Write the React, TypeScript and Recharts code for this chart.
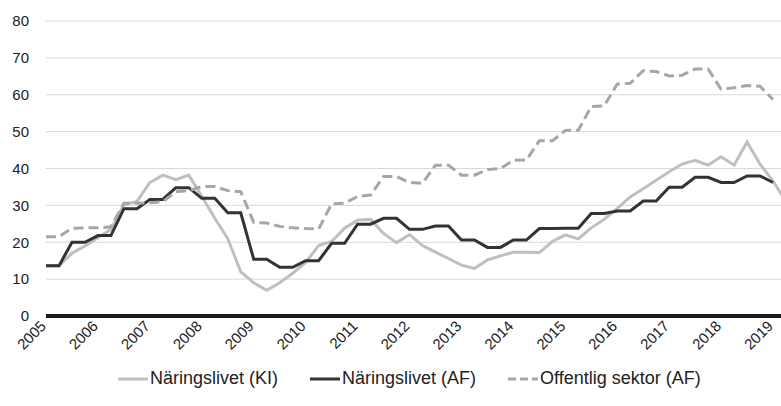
import React from 'react';
import { LineChart, Line, XAxis, YAxis, CartesianGrid, ReferenceLine } from 'recharts';

const years = ['2005', '2006', '2007', '2008', '2009', '2010', '2011', '2012', '2013', '2014', '2015', '2016', '2017', '2018', '2019'];
const quarterNames = ['K1', 'K2', 'K3', 'K4'];
const periods = years.flatMap((y) => quarterNames.map((q) => `${y}-${q}`)).slice(0, 58);
const yTicks = [0, 10, 20, 30, 40, 50, 60, 70, 80];

const naringslivetKI = [
  13.6, 13.6, 17.0, 19.0, 21.2, 23.5, 30.2, 31.0, 36.2, 38.2,
  37.0, 38.2, 32.5, 26.5, 21.0, 12.0, 9.0, 7.0, 9.0, 11.6,
  14.5, 19.1, 20.2, 23.8, 26.0, 26.2, 22.4, 19.9, 22.1, 19.1,
  17.3, 15.6, 13.8, 12.9, 15.2, 16.3, 17.3, 17.3, 17.2, 20.2,
  22.0, 20.9, 23.9, 26.2, 29.2, 32.3, 34.5, 36.8, 39.1, 41.2,
  42.2, 40.9, 43.2, 40.9, 47.2, 41.2, 36.6, 31.0,
];
const naringslivetAF = [
  13.6, 13.6, 20.0, 20.0, 21.8, 21.8, 29.1, 29.1, 31.6, 31.6,
  34.8, 34.8, 31.9, 31.9, 28.0, 28.0, 15.4, 15.4, 13.2, 13.2,
  15.0, 15.0, 19.7, 19.7, 24.9, 24.9, 26.5, 26.5, 23.5, 23.5,
  24.4, 24.4, 20.6, 20.6, 18.6, 18.6, 20.6, 20.6, 23.7, 23.7,
  23.8, 23.8, 27.8, 27.8, 28.5, 28.5, 31.2, 31.2, 34.9, 34.9,
  37.6, 37.6, 36.2, 36.2, 38.0, 38.0, 36.2, null,
];
const offentligAF = [
  21.5, 21.5, 23.8, 23.9, 23.9, 24.2, 30.6, 30.6, 30.7, 31.0,
  33.7, 34.0, 35.1, 35.1, 34.0, 33.7, 25.4, 25.2, 24.3, 23.9,
  23.7, 23.6, 30.4, 30.6, 32.4, 32.8, 37.8, 37.8, 36.2, 36.0,
  40.9, 40.9, 38.2, 38.2, 39.7, 40.0, 42.2, 42.3, 47.5, 47.5,
  50.3, 50.4, 56.8, 57.0, 62.9, 63.1, 66.5, 66.3, 65.1, 65.3,
  67.0, 67.0, 61.5, 61.9, 62.5, 62.3, 58.7, null,
];

const data = periods.map((p, i) => ({
  period: p,
  ki: naringslivetKI[i],
  af: naringslivetAF[i],
  off: offentligAF[i],
}));

const FONT = '"Liberation Sans", Arial, sans-serif';
const TEXT = '#222';

const series = [
  { key: 'ki', name: 'Näringslivet (KI)', color: '#bfbfbf', dash: undefined },
  { key: 'af', name: 'Näringslivet (AF)', color: '#333333', dash: undefined },
  { key: 'off', name: 'Offentlig sektor (AF)', color: '#a6a6a6', dash: '10 5' },
];

// year label turned 45 degrees (css transform), text ends at the tick
function renderYearTick(props: any) {
  const { x, y, payload } = props;
  const tx = Number(x) + 1;
  const ty = Number(y) + 11;
  return (
    <text
      x={tx}
      y={ty}
      textAnchor="end"
      fontSize={15}
      fill={TEXT}
      fontFamily={FONT}
      style={{ transform: 'rotate(-45deg)', transformOrigin: `${tx}px ${ty}px`, transformBox: 'view-box' }}
    >
      {String(payload.value).slice(0, 4)}
    </text>
  );
}

function LegendRow() {
  return (
    <div
      style={{
        position: 'absolute',
        top: 368,
        left: 118,
        display: 'flex',
        alignItems: 'center',
        gap: 32,
        fontFamily: FONT,
        fontSize: 18,
        color: TEXT,
        whiteSpace: 'nowrap',
      }}
    >
      {series.map((s) => (
        <div key={s.key} style={{ display: 'flex', alignItems: 'center', gap: 2 }}>
          <svg width={30} height={6}>
            <line x1={0} y1={3} x2={30} y2={3} stroke={s.color} strokeWidth={3} strokeDasharray={s.dash ? '8 4' : undefined} />
          </svg>
          <span>{s.name}</span>
        </div>
      ))}
    </div>
  );
}

export default function App() {
  return (
    <div style={{ position: 'fixed', left: 0, top: 0, width: 781, height: 406, overflow: 'hidden', background: '#fff' }}>
      <LineChart width={786} height={406} data={data} margin={{ top: 21, right: 0, left: 6, bottom: 60 }}>
        <CartesianGrid vertical={false} stroke="#d9d9d9" strokeWidth={1} />
        <XAxis
          dataKey="period"
          interval={3}
          axisLine={false}
          tickLine={false}
          tickSize={0}
          tickMargin={0}
          height={30}
          tick={renderYearTick}
        />
        <YAxis
          domain={[0, 80]}
          ticks={yTicks}
          width={40}
          axisLine={false}
          tickLine={false}
          tickSize={0}
          tickMargin={17}
          tick={{ fontSize: 15, fill: TEXT, fontFamily: FONT }}
        />
        <ReferenceLine y={0} stroke="#1a1a1a" strokeWidth={4} />
        {series.map((s) => (
          <Line
            key={s.key}
            dataKey={s.key}
            name={s.name}
            type="linear"
            stroke={s.color}
            strokeWidth={3}
            strokeDasharray={s.dash}
            dot={false}
            activeDot={false}
            isAnimationActive={false}
          />
        ))}
      </LineChart>
      <LegendRow />
    </div>
  );
}
